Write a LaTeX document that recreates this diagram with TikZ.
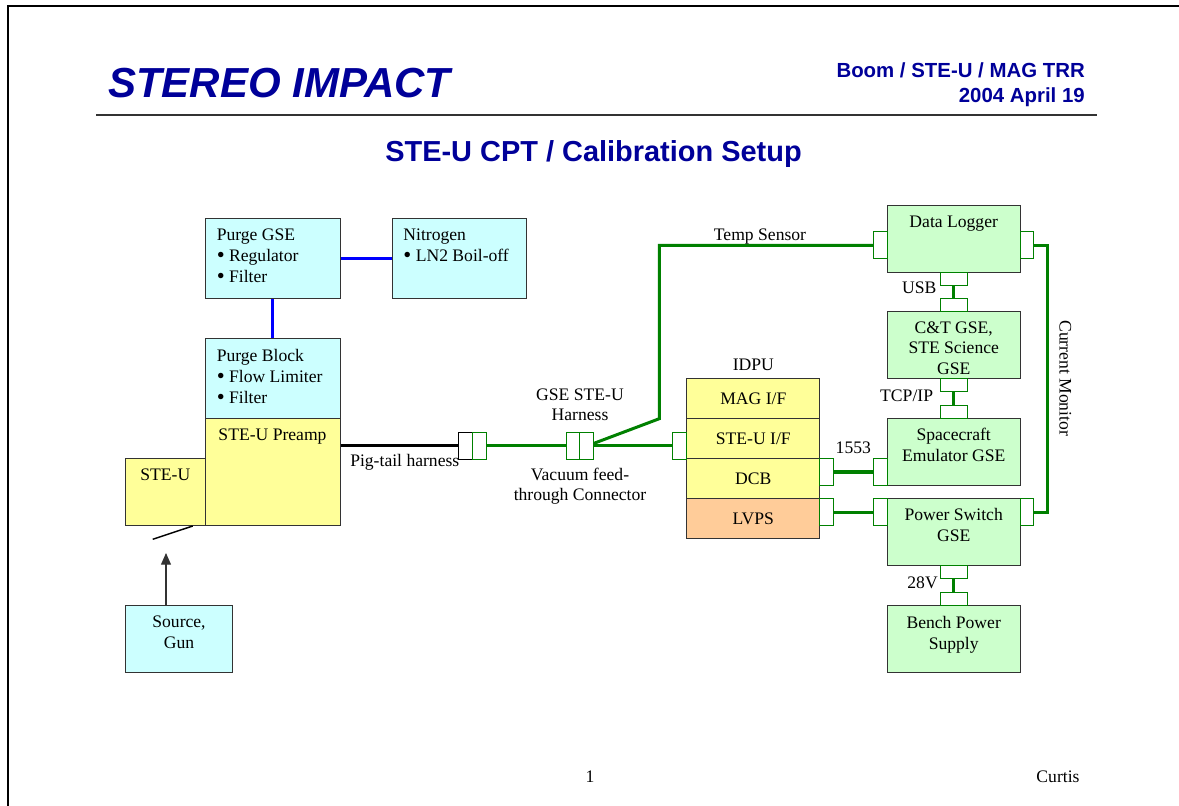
\documentclass[tikz,border=0pt]{standalone}
\usepackage{fontspec}
\setmainfont{Liberation Serif}
\newfontfamily\headfont{Liberation Sans}
\usetikzlibrary{arrows.meta, positioning}
\definecolor{headblue}{RGB}{0,0,153}
\definecolor{gsecyan}{RGB}{204,255,255}
\definecolor{unityellow}{RGB}{255,255,153}
\definecolor{gsegreen}{RGB}{204,255,204}
\definecolor{lvpsorange}{RGB}{255,204,153}
\definecolor{cablegreen}{RGB}{0,128,0}
\definecolor{boxline}{RGB}{51,51,51}
\newcommand{\pbul}{\raisebox{-0.9pt}{\fontsize{17}{17}\selectfont\textbullet}}

\begin{document}
\begin{tikzpicture}[x=0.75pt, y=-0.75pt,
  box/.style={draw=boxline, line width=0.75pt, inner sep=0pt, minimum width=99.75pt, minimum height=50.25pt, font=\fontsize{13.2}{15.8}\selectfont},
  txt/.style={font=\fontsize{13.2}{15.8}\selectfont, inner sep=0pt, align=center},
  plug/.style={draw=cablegreen, line width=0.75pt, fill=white, inner sep=0pt, minimum width=10.25pt, minimum height=20pt},
  plugv/.style={plug, minimum width=20pt, minimum height=10pt},
  cable/.style={draw=cablegreen, line width=2.25pt},
  purge/.style={draw=blue, line width=2.5pt}]
\useasboundingbox (0,0) rectangle (1179,806);

% page frame and header
\draw[line width=1.5pt] (7.5,806) -- (7.5,6.5) -- (1179,6.5);
\draw[boxline, line width=1pt] (96,115) -- (1097,115);
\node[anchor=base west, inner sep=0pt, text=headblue, font=\headfont\bfseries\itshape\fontsize{31.5}{31.5}\selectfont] (brand) at (108,98) {STEREO IMPACT};
\node[anchor=base east, inner sep=0pt, text=headblue, font=\headfont\bfseries\fontsize{15.3}{15.3}\selectfont] (review) at (1085,78) {Boom / STE-U / MAG TRR};
\node[anchor=base east, inner sep=0pt, text=headblue, font=\headfont\bfseries\fontsize{15.3}{15.3}\selectfont] (date) at (1085,102.5) {2004 April 19};
\node[anchor=base, inner sep=0pt, text=headblue, font=\headfont\bfseries\fontsize{21.7}{21.7}\selectfont] (title) at (593.5,162) {STE-U CPT / Calibration Setup};
\node[txt, anchor=base] (page) at (590,782) {1};
\node[txt, anchor=base] (author) at (1058,782) {Curtis};

% purge and sensor side
\node[box, fill=gsecyan, minimum width=101.25pt, minimum height=60pt] (pgse) at (272.5,258.7) {};
\node[txt, align=left, anchor=north west] at ([xshift=9pt,yshift=-7.9pt]pgse.north west) {Purge GSE\\\pbul\ Regulator\\\pbul\ Filter};
\node[box, fill=gsecyan, minimum width=100.5pt, minimum height=60pt] (nitro) at (459.7,258.7) {};
\node[txt, align=left, anchor=north west] at ([xshift=8.25pt,yshift=-7.9pt]nitro.north west) {Nitrogen\\\pbul\ LN2 Boil-off};
\node[box, fill=gsecyan, minimum width=101.25pt, minimum height=60pt] (pblock) at (272.5,378.7) {};
\node[txt, align=left, anchor=north west] at ([xshift=9pt,yshift=-7.9pt]pblock.north west) {Purge Block\\\pbul\ Flow Limiter\\\pbul\ Filter};
\node[box, fill=unityellow, minimum width=60pt, minimum height=50pt] (steu) at (165.3,492) {};
\node[txt, anchor=north] at ([yshift=-7.5pt]steu.north) {STE-U};
\node[box, fill=unityellow, minimum width=101.25pt, minimum height=80pt] (preamp) at (272.5,472) {};
\node[txt, anchor=north] at ([yshift=-7.9pt]preamp.north) {STE-U Preamp};
\node[box, fill=gsecyan, minimum width=80.25pt, minimum height=50.25pt] (src) at (179,639) {};
\node[txt, anchor=north] at ([yshift=-8pt]src.north) {Source,\\Gun};
\draw[purge] (pgse.east) -- (nitro.west);
\draw[purge] (pgse.south) -- (pblock.north);
\draw[line width=1.1pt] (152.7,539.3) -- (192.7,526);
\coordinate (beam) at (166,553);
\draw[boxline, line width=0.9pt, -{Triangle[length=8.8pt,width=7.5pt]}] (src.north -| beam) -- (beam);

% IDPU stack
\node[box, fill=unityellow, minimum height=30pt] (magif) at (753.3,398.7) {MAG I/F};
\node[box, fill=unityellow, minimum height=30pt] (steuif) at (753.3,438.7) {STE-U I/F};
\node[box, fill=unityellow, minimum height=30pt] (dcb) at (753.3,478.7) {DCB};
\node[box, fill=lvpsorange, minimum height=30pt] (lvps) at (753.3,518.7) {LVPS};
\node[txt, anchor=base] (idpu) at ([yshift=5.5pt]magif.north) {IDPU};

% GSE column
\node[box, fill=gsegreen] (dlog) at (953.7,238.7) {};
\node[txt, anchor=north] at ([yshift=-8.3pt]dlog.north) {Data Logger};
\node[box, fill=gsegreen] (ctgse) at (953.7,345.3) {};
\node[txt, anchor=north, font=\fontsize{13.2}{15.4}\selectfont] at ([yshift=-7.4pt]ctgse.north) {C\&T GSE,\\STE Science\\GSE};
\node[box, fill=gsegreen] (scemu) at (953.7,452) {};
\node[txt, anchor=north] at ([yshift=-7.5pt]scemu.north) {Spacecraft\\Emulator GSE};
\node[box, fill=gsegreen] (pswitch) at (953.7,532) {};
\node[txt, anchor=north] at ([yshift=-7.5pt]pswitch.north) {Power Switch\\GSE};
\node[box, fill=gsegreen] (bench) at (953.7,638.7) {};
\node[txt, anchor=north] at ([yshift=-8.3pt]bench.north) {Bench Power\\Supply};

% connectors
\node[plug, draw=black] (pig1) at (465.8,445.7) {};
\node[plug] (pig2) at (479.7,445.7) {};
\node[plug] (feed1) at (573.3,445.7) {};
\node[plug] (feed2) at (586.7,445.7) {};
\node[plug] (ipl) at (679.7,445.7) {};
\node[plug] (dcbR) at (826.7,472) {};
\node[plug] (lvR) at (826.7,512) {};
\node[plug] (scL) at (880.3,472) {};
\node[plug] (psL) at (880.3,512) {};
\node[plug] (psR) at (1027,512) {};
\node[plug] (dlL) at (880.3,245.3) {};
\node[plug] (dlR) at (1027,245.3) {};
\node[plugv] (dlB) at (953.7,278.7) {};
\node[plugv] (ctT) at (953.7,305.3) {};
\node[plugv] (ctB) at (953.7,385.3) {};
\node[plugv] (scT) at (953.7,412) {};
\node[plugv] (psB) at (953.7,572) {};
\node[plugv] (bpT) at (953.7,598.7) {};

% cables
\draw[line width=2.25pt] (pig1.west -| preamp.east) -- (pig1.west);
\draw[cable] (pig2.east) -- (feed1.west);
\draw[cable] (feed2.east) -- (ipl.west);
\coordinate (tbend) at (659.3,418.7);
\draw[cable] ([yshift=1.8pt]feed2.east) -- (tbend) |- (dlL.west);
\draw[cable, line width=2.9pt] (dcbR.east) -- (scL.west);
\draw[cable] (lvR.east) -- (psL.west);
\draw[cable] (dlB.south) -- (ctT.north);
\draw[cable] (ctB.south) -- (scT.north);
\draw[cable] (psB.south) -- (bpT.north);
\coordinate (cmon) at (1047.3,245.3);
\draw[cable] (dlR.east) -- (cmon) |- (psR.east);

% cable labels
\node[txt, anchor=base] (templ) at (760,241) {Temp Sensor};
\node[txt, anchor=base] (harnl) at (580,400) {GSE STE-U};
\node[txt, anchor=base] at (580,420.7) {Harness};
\node[txt, anchor=base] (feedl) at (580,480.7) {Vacuum feed-};
\node[txt, anchor=base] at (580,500.7) {through Connector};
\node[txt, anchor=base west] (pigl) at (350,466.7) {Pig-tail harness};
\node[txt, anchor=base] (busl) at (853.3,453.3) {1553};
\node[txt, anchor=base east] (usbl) at (936.7,294) {USB};
\node[txt, anchor=base east] (tcpl) at (933.3,401.3) {TCP/IP};
\node[txt, anchor=base east] (pwrl) at (938,588) {28V};
\node[txt, rotate=-90] (cmonl) at (1065.3,378.3) {Current Monitor};
\end{tikzpicture}
\end{document}
